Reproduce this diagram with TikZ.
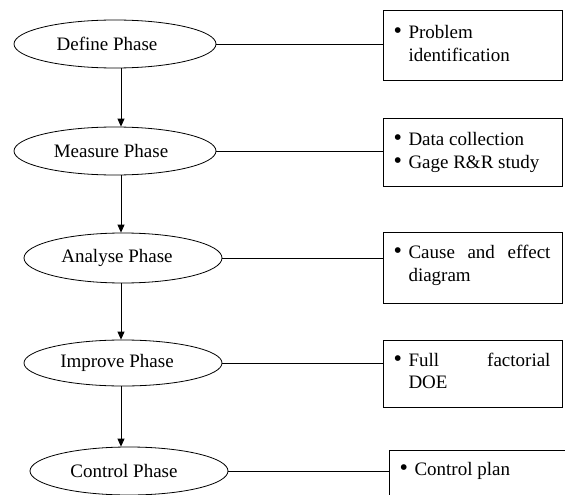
\documentclass[tikz,border=0pt]{standalone}
\usepackage{fontspec}
\setmainfont{Liberation Serif}
\usetikzlibrary{shapes.geometric, arrows.meta, positioning}
\newcommand{\bitem}[1]{\par\tolerance=10000\hyphenpenalty=10000\noindent\hangindent=14pt\hangafter=1\makebox[14pt][l]{\hspace{-1pt}\fontsize{24}{24}\selectfont\textbullet}#1\par}

\begin{document}
\begin{tikzpicture}[x=1pt, y=-1pt, font=\fontsize{19}{22.5}\selectfont,
    phase/.style={draw, ellipse, line width=0.8pt, inner sep=0pt, minimum width=200pt, minimum height=48pt},
    tool/.style={draw, rectangle, line width=0.8pt, inner xsep=9pt, inner ysep=4pt, text width=156pt, align=justify, minimum width=179pt},
    link/.style={line width=0.8pt},
    flow/.style={line width=0.8pt, -{Triangle[width=7pt, length=8pt]}}]
    \useasboundingbox (0,0) rectangle (565,495);

    % Phases
    \node[phase, minimum width=202pt] (define) at (115,44) {Define Phase\kern16pt};
    \node[phase, minimum width=202pt] (measure) at (115,151) {Measure Phase\kern8pt};
    \node[phase, minimum width=198pt, minimum height=50pt] (analyse) at (123,258) {Analyse Phase\kern12pt};
    \node[phase, minimum width=198pt, minimum height=46pt] (improve) at (123,363) {Improve Phase\kern12pt};
    \node[phase, minimum width=198pt] (control) at (129,471) {Control Phase\kern10pt};

    % Tools
    \node[tool, minimum height=70pt] (definetools) at (472.5,45) {\bitem{Problem identification}\kern12pt};
    \node[tool, minimum height=68pt] (measuretools) at (472.5,152) {\bitem{Data collection}\bitem{Gage R\&R study}\kern8pt};
    \node[tool, minimum height=68pt] (analysetools) at (472.5,268) {\bitem{Cause and effect\linebreak diagram}\kern14pt};
    \node[tool, minimum height=67pt] (improvetools) at (472.5,373.5) {\bitem{Full factorial\linebreak DOE}\kern14pt};
    \node[tool, anchor=north, inner ysep=3pt] (controltools) at (478.5,450) {\bitem{Control plan}\kern50pt};

    % Links to tools
    \draw[link] (define.east) -- (define.east -| definetools.west);
    \draw[link] (measure.east) -- (measure.east -| measuretools.west);
    \draw[link] (analyse.east) -- (analyse.east -| analysetools.west);
    \draw[link] (improve.east) -- (improve.east -| improvetools.west);
    \draw[link] (control.east) -- (control.east -| controltools.west);

    % Flow
    \coordinate (axis) at (121,0);
    \draw[flow] (define.south -| axis) -- (measure.north -| axis);
    \draw[flow] (measure.south -| axis) -- (analyse.north -| axis);
    \draw[flow] (analyse.south -| axis) -- (improve.north -| axis);
    \draw[flow] (improve.south -| axis) -- (control.north -| axis);
\end{tikzpicture}
\end{document}
